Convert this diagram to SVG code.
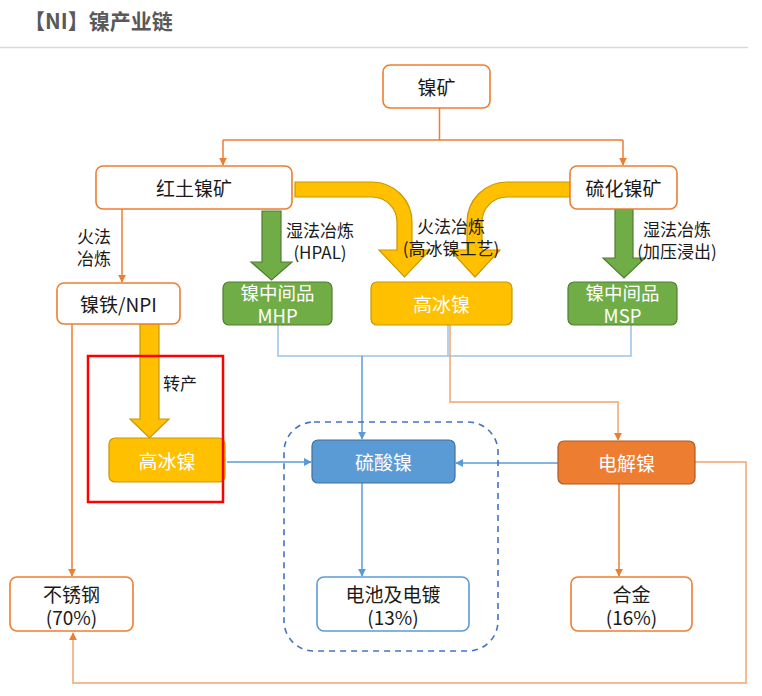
<svg xmlns="http://www.w3.org/2000/svg" width="762" height="696" viewBox="0 0 762 696">
<defs>
<style>
text{font-family:"Noto Sans CJK SC","Liberation Sans",sans-serif;font-size:19px;text-anchor:middle;dominant-baseline:central}
.dark{fill:#1a1a1a}
.white{fill:#ffffff}
.lbl{fill:#1a1a1a;font-size:17px}
.obox{fill:#ffffff;stroke:#ED7D31;stroke-width:1.6}
.bbox{fill:#ffffff;stroke:#5B9BD5;stroke-width:1.6}
.green{fill:#70AD47;stroke:#507E32;stroke-width:1.2}
.yellow{fill:#FFC000;stroke:#C99700;stroke-width:1.2}
.blue{fill:#5B9BD5;stroke:#41719C;stroke-width:1.2}
.orange{fill:#ED7D31;stroke:#AE5A21;stroke-width:1.2}
.oline{fill:none;stroke:#ED7D31;stroke-width:1.5}
.oline2{fill:none;stroke:#F4A46E;stroke-width:1.5}
.bline{fill:none;stroke:#5B9BD5;stroke-width:1.5}
.bline2{fill:none;stroke:#9DC3E6;stroke-width:1.5}
</style>
<marker id="ao" viewBox="0 0 10 10" refX="9" refY="5" markerWidth="8" markerHeight="8" markerUnits="userSpaceOnUse" orient="auto"><path d="M0,0 L10,5 L0,10 z" fill="#ED7D31"/></marker>
<marker id="ab" viewBox="0 0 10 10" refX="9" refY="5" markerWidth="8" markerHeight="8" markerUnits="userSpaceOnUse" orient="auto"><path d="M0,0 L10,5 L0,10 z" fill="#5B9BD5"/></marker>
</defs>
<rect width="762" height="696" fill="#ffffff"/>
<text x="24" y="20" style="text-anchor:start;font-size:21px;font-weight:bold;fill:#595959">【NI】镍产业链</text>
<line x1="0" y1="47.5" x2="748" y2="47.5" stroke="#d9d9d9" stroke-width="1.5"/>

<g id="connectors">
<path class="oline" d="M439.5,108 V140 M223,140 H623" />
<path class="oline" d="M223,140 V165" marker-end="url(#ao)"/>
<path class="oline" d="M623,140 V165" marker-end="url(#ao)"/>
<path class="oline" d="M122,209 V282" marker-end="url(#ao)"/>
<path class="oline" d="M72,324 V576" marker-end="url(#ao)"/>
<path class="bline2" d="M278,325 V356 H631 V325 M448,325 V356"/>
<path class="bline" d="M362,356 V439" marker-end="url(#ab)"/>
<path class="oline2" d="M450,325 V402 H618 V440" marker-end="url(#ao)"/>
<path class="bline" d="M227,462 H311" marker-end="url(#ab)"/>
<path class="bline" d="M558,463 H456" marker-end="url(#ab)"/>
<path class="bline" d="M362,483 V576" marker-end="url(#ab)"/>
<path class="oline" d="M619,484 V576" marker-end="url(#ao)"/>
<path class="oline2" d="M695,462 H746 V683 H73 V633" marker-end="url(#ao)"/>
<rect x="284" y="422" width="214" height="229" rx="30" fill="none" stroke="#4472C4" stroke-width="1.6" stroke-dasharray="6,5"/>
<path class="green" d="M262,211 H281 V262 H292 L271.5,280 L251,262 H262 Z"/>
<path class="green" d="M615,209 H633 V258 H645 L624,278 L603,258 H615 Z"/>
<path class="yellow" d="M140,324 H159 V419 H169 L149.5,438 L130,419 H140 Z"/>
<path class="yellow" d="M295,182 H372 A40,40 0 0 1 412,222 V250 H430 L404.5,277 L379,250 H397 V222 A25,25 0 0 0 372,197 H295 Z"/>
<path class="yellow" d="M570,182 H507 A40,40 0 0 0 467,222 V250 H450 L475,277 L500,250 H482 V222 A25,25 0 0 1 507,197 H570 Z"/>
</g>

<g id="labels">
<text class="lbl" x="94" y="235">火法</text>
<text class="lbl" x="94" y="257">冶炼</text>
<text class="lbl" x="320" y="229">湿法冶炼</text>
<text class="lbl" x="320" y="251">(HPAL)</text>
<text class="lbl" x="451" y="225">火法冶炼</text>
<text class="lbl" x="451" y="247">(高冰镍工艺)</text>
<text class="lbl" x="677" y="228">湿法冶炼</text>
<text class="lbl" x="677" y="250">(加压浸出)</text>
<text class="lbl" x="180" y="382">转产</text>
</g>

<g id="n-nikuang"><rect class="obox" x="383" y="65" width="107" height="43" rx="7"/><text class="dark" x="436.5" y="86.5">镍矿</text></g>
<g id="n-hongtu"><rect class="obox" x="96" y="166" width="196" height="43" rx="7"/><text class="dark" x="194" y="187.5">红土镍矿</text></g>
<g id="n-liuhua"><rect class="obox" x="570" y="166" width="107" height="43" rx="7"/><text class="dark" x="623.5" y="187.5">硫化镍矿</text></g>
<g id="n-npi"><rect class="obox" x="57" y="283" width="123" height="41" rx="7"/><text class="dark" x="118.5" y="303.5">镍铁/NPI</text></g>
<g id="n-mhp"><rect class="green" x="223" y="282" width="109" height="43" rx="6"/><text class="white" x="277.5" y="292" style="font-size:18.5px">镍中间品</text><text class="white" x="277.5" y="314.5" style="font-size:18.5px">MHP</text></g>
<g id="n-gaobing1"><rect class="yellow" x="371" y="282" width="141" height="43" rx="6"/><text class="white" x="441.5" y="303.5">高冰镍</text></g>
<g id="n-msp"><rect class="green" x="568" y="282" width="109" height="43" rx="6"/><text class="white" x="622.5" y="292" style="font-size:18.5px">镍中间品</text><text class="white" x="622.5" y="314.5" style="font-size:18.5px">MSP</text></g>
<g id="n-gaobing2"><rect class="yellow" x="109" y="438" width="116" height="44" rx="6"/><text class="white" x="167" y="460">高冰镍</text></g>
<g id="n-liusuan"><rect class="blue" x="312" y="440" width="143" height="43" rx="6"/><text class="white" x="383.5" y="461.5">硫酸镍</text></g>
<g id="n-dianjie"><rect class="orange" x="558" y="441" width="137" height="43" rx="6"/><text class="white" x="626.5" y="462.5">电解镍</text></g>
<g id="n-buxiu"><rect class="obox" x="10" y="577" width="123" height="54" rx="7"/><text class="dark" x="71.5" y="593">不锈钢</text><text class="dark" x="71.5" y="616">(70%)</text></g>
<g id="n-dianchi"><rect class="bbox" x="317" y="577" width="152" height="54" rx="7"/><text class="dark" x="393" y="593">电池及电镀</text><text class="dark" x="393" y="616">(13%)</text></g>
<g id="n-hejin"><rect class="obox" x="571" y="577" width="121" height="54" rx="7"/><text class="dark" x="631.5" y="593">合金</text><text class="dark" x="631.5" y="616">(16%)</text></g>
<rect id="highlight" x="88" y="356" width="135" height="146" fill="none" stroke="#FF0000" stroke-width="2.5"/>
</svg>
